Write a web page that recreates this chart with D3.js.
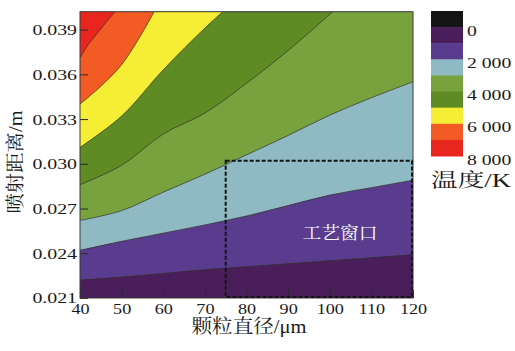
<!DOCTYPE html>
<html>
<head>
<meta charset="utf-8">
<script src="https://cdn.jsdelivr.net/npm/d3@7/dist/d3.min.js"></script>
<style>
  body { margin: 0; background: #fff; }
  text { fill: #1a1a1a; }
</style>
</head>
<body>
<svg id="chart" width="515" height="351"></svg>
<script>
// Axis ranges and ticks
const xDomain = [40, 120];
const yDomain = [0.021, 0.0402];
const xTicks = [40, 50, 60, 70, 80, 90, 100, 110, 120];
const yTicks = [0.021, 0.024, 0.027, 0.030, 0.033, 0.036, 0.039];

// Isotherms: [particle diameter (μm), spray distance (m)]
const iso1000 = [[40, 0.0222], [50, 0.0224], [60, 0.02265], [70, 0.0229], [80, 0.0231], [90, 0.0233], [100, 0.0235], [110, 0.0237], [120, 0.0239]];
const iso2000 = [[40, 0.0242], [50, 0.0248], [60, 0.02535], [70, 0.0259], [80, 0.0265], [90, 0.0272], [100, 0.0279], [110, 0.0284], [120, 0.0289]];
const iso3000 = [[40, 0.0262], [50, 0.02686], [60, 0.0281], [70, 0.0293], [80, 0.0306], [90, 0.0319], [100, 0.03326], [110, 0.03443], [120, 0.0355]];
const iso4000 = [[40, 0.0286], [50, 0.0299], [60, 0.0320], [70, 0.0334], [80, 0.0354], [90, 0.0376], [100.7, 0.0402]];
const iso5000 = [[40, 0.0311], [50, 0.0332], [60, 0.0363], [70, 0.0391], [74.3, 0.0402]];
const iso6000 = [[40, 0.0340], [45, 0.0352], [50, 0.03665], [55, 0.0388], [57.8, 0.0402]];
const iso7000 = [[40, 0.0371], [42, 0.0380], [44, 0.0387], [46, 0.0394], [48.4, 0.0402]];
const isoLevels = [1000, 2000, 3000, 4000, 5000, 6000, 7000];
const isoLines = [iso1000, iso2000, iso3000, iso4000, iso5000, iso6000, iso7000];

// Temperature bands (K) and their colours
const bandEdges = [-1000, 0, 1000, 2000, 3000, 4000, 5000, 6000, 7000, 8000];
const bandColors = ["#141414", "#4a1e5a", "#5a3c8e", "#8fb9c3", "#78a23e", "#5f8b25", "#f5ee35", "#f25b24", "#e8261f"];
const legendTicks = [0, 2000, 4000, 6000, 8000];
const legendLabels = ["0", "2 000", "4 000", "6 000", "8 000"];

// Process window
const windowX = [75, 120];
const windowY = [0.021, 0.0302];

const svg = d3.select("#chart");
const plot = { left: 80, right: 413, top: 11.7, bottom: 298 };

const x = d3.scaleLinear().domain(xDomain).range([plot.left, plot.right]);
const y = d3.scaleLinear().domain(yDomain).range([plot.bottom, plot.top]);

const serif = "'Liberation Serif', 'Times New Roman', serif";
const cjk = "'Liberation Serif', 'Noto Serif CJK SC', 'Noto Sans CJK SC', serif";

// stretch text horizontally by factor k
function stretch(sel, k) {
  sel.each(function () {
    const w = this.getComputedTextLength();
    d3.select(this).attr("textLength", w * k).attr("lengthAdjust", "spacingAndGlyphs");
  });
}

svg.append("defs").append("clipPath").attr("id", "plotClip")
  .append("rect")
  .attr("x", plot.left).attr("y", plot.top)
  .attr("width", plot.right - plot.left).attr("height", plot.bottom - plot.top);

const field = svg.append("g").attr("clip-path", "url(#plotClip)");

// coldest band fills the whole plot
field.append("rect")
  .attr("x", plot.left).attr("y", plot.top)
  .attr("width", plot.right - plot.left).attr("height", plot.bottom - plot.top)
  .attr("fill", bandColors[bandEdges.indexOf(0)]);

const curve = d3.line().x(d => x(d[0])).y(d => y(d[1])).curve(d3.curveCatmullRom.alpha(0.5));

// each hotter region is stacked on top of the previous one
isoLevels.forEach((lvl, i) => {
  const pts = isoLines[i];
  const last = pts[pts.length - 1];
  let p = curve(pts);
  if (last[0] >= xDomain[1]) p += `L${x(xDomain[1])},${y(yDomain[1])}`;
  p += `L${x(xDomain[0])},${y(yDomain[1])}Z`;
  field.append("path")
    .attr("d", p)
    .attr("fill", bandColors[bandEdges.indexOf(lvl)]);
});

// isotherm lines
isoLines.forEach(pts => {
  field.append("path")
    .attr("d", curve(pts))
    .attr("fill", "none")
    .attr("stroke", "#2e2e22")
    .attr("stroke-opacity", 0.75)
    .attr("stroke-width", 0.9);
});

// axes with inward ticks
const xAxis = svg.append("g")
  .attr("transform", `translate(0,${plot.bottom})`)
  .call(d3.axisBottom(x).tickValues(xTicks).tickSize(-8).tickPadding(5).tickFormat(d3.format("d")));
const yAxis = svg.append("g")
  .attr("transform", `translate(${plot.left},0)`)
  .call(d3.axisLeft(y).tickValues(yTicks).tickSize(-8).tickPadding(3).tickFormat(d3.format(".3f")));

[xAxis, yAxis].forEach(ax => {
  ax.select(".domain").remove();
  ax.selectAll(".tick line").attr("stroke", "#2a2a2a").attr("stroke-width", 1);
  ax.selectAll(".tick text").attr("font-family", serif).attr("font-size", 15.5).attr("fill", "#1a1a1a");
});
stretch(xAxis.selectAll(".tick text"), 1.17);
stretch(yAxis.selectAll(".tick text"), 1.28);

// frame
svg.append("rect")
  .attr("x", plot.left).attr("y", plot.top)
  .attr("width", plot.right - plot.left).attr("height", plot.bottom - plot.top)
  .attr("fill", "none").attr("stroke", "#3a3a3a").attr("stroke-width", 1);

// process window (dashed box)
svg.append("rect")
  .attr("x", x(windowX[0])).attr("y", y(windowY[1]))
  .attr("width", x(windowX[1]) - x(windowX[0]) - 1)
  .attr("height", y(windowY[0]) - y(windowY[1]) - 1)
  .attr("fill", "none")
  .attr("stroke", "#151515")
  .attr("stroke-width", 2)
  .attr("stroke-dasharray", "4,2");

svg.append("text")
  .attr("x", 340).attr("y", 239)
  .attr("text-anchor", "middle")
  .attr("font-family", cjk).attr("font-size", 17)
  .style("fill", "#ffffff")
  .attr("textLength", 75).attr("lengthAdjust", "spacingAndGlyphs")
  .text("工艺窗口");

// axis titles
svg.append("text")
  .attr("x", 249).attr("y", 333)
  .attr("text-anchor", "middle")
  .attr("font-family", cjk).attr("font-size", 19)
  .attr("textLength", 115).attr("lengthAdjust", "spacingAndGlyphs")
  .text("颗粒直径/μm");

svg.append("text")
  .attr("transform", "translate(22,162) rotate(-90)")
  .attr("text-anchor", "middle")
  .attr("font-family", cjk).attr("font-size", 19)
  .attr("textLength", 103).attr("lengthAdjust", "spacingAndGlyphs")
  .text("喷射距离/m");

// colour bar
const cb = d3.scaleLinear().domain([bandEdges[0], bandEdges[bandEdges.length - 1]]).range([11, 156]);
const cbX = 431, cbW = 32;
const legend = svg.append("g");
legend.selectAll("rect.band")
  .data(bandColors)
  .join("rect")
  .attr("class", "band")
  .attr("x", cbX)
  .attr("y", (c, i) => cb(bandEdges[i]))
  .attr("width", cbW)
  .attr("height", (c, i) => cb(bandEdges[i + 1]) - cb(bandEdges[i]) + 0.5)
  .attr("fill", c => c);

const legendText = legend.selectAll("text.lab")
  .data(legendTicks)
  .join("text")
  .attr("class", "lab")
  .attr("x", cbX + cbW + 4)
  .attr("y", d => cb(d) + 3)
  .attr("dominant-baseline", "central")
  .attr("font-family", serif).attr("font-size", 15.5)
  .text((d, i) => legendLabels[i]);
stretch(legendText, 1.27);

svg.append("text")
  .attr("x", 431).attr("y", 187)
  .attr("font-family", cjk).attr("font-size", 19)
  .attr("textLength", 80).attr("lengthAdjust", "spacingAndGlyphs")
  .text("温度/K");
</script>
</body>
</html>
